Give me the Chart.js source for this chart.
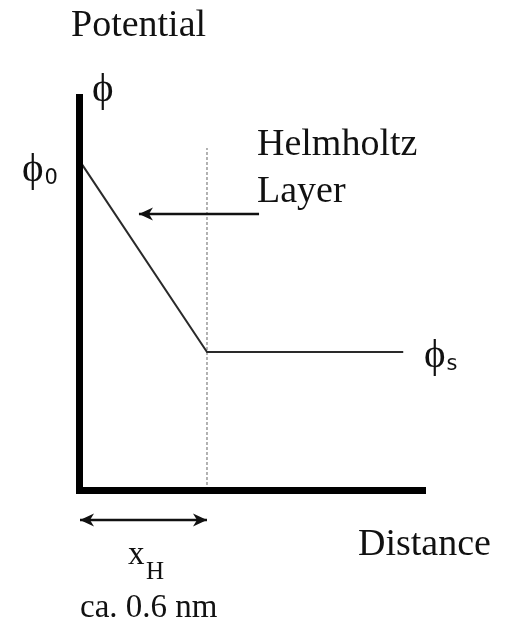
<!DOCTYPE html>
<html>
<head>
<meta charset="utf-8">
<script src="https://cdn.jsdelivr.net/npm/chart.js@4/dist/chart.umd.min.js"></script>
<style>
  html, body { margin: 0; padding: 0; background: #fff; }
  canvas { display: block; }
</style>
</head>
<body>
<canvas id="chart" width="506" height="622"></canvas>
<script>
// potential profile: distance (nm) vs potential (arb. units)
const distance = [0, 0.6, 1.52];
const potential = [8.4, 3.51, 3.51];

// Helmholtz plane and its guide line
const xH = 0.6;
const guidePotential = [0, 8.7];

// axis ranges
const xMax = 1.622;
const yMax = 10;

// texts
const axisTitles = ['Potential', 'Distance'];
const phiLabels = ['ϕ', 'ϕ', 'ϕ'];
const phiSubs = ['', '0', 's'];
const layerLabel = ['Helmholtz', 'Layer'];
const widthLabel = ['x', 'H', 'ca. 0.6 nm'];

const SERIF = '"Liberation Serif", "Times New Roman", serif';
const INK = '#111';

function arrowHead(ctx, fromX, fromY, toX, toY) {
    const ang = Math.atan2(toY - fromY, toX - fromX);
    const len = 14, half = 6.5;
    ctx.beginPath();
    ctx.moveTo(toX, toY);
    ctx.lineTo(toX - len * Math.cos(ang) + half * Math.sin(ang), toY - len * Math.sin(ang) - half * Math.cos(ang));
    ctx.lineTo(toX - (len - 4) * Math.cos(ang), toY - (len - 4) * Math.sin(ang));
    ctx.lineTo(toX - len * Math.cos(ang) - half * Math.sin(ang), toY - len * Math.sin(ang) + half * Math.cos(ang));
    ctx.closePath();
    ctx.fill();
}

function arrowLine(ctx, x1, y1, x2, y2, both) {
    ctx.beginPath();
    ctx.moveTo(x1, y1);
    ctx.lineTo(x2, y2);
    ctx.stroke();
    arrowHead(ctx, x1, y1, x2, y2);
    if (both) arrowHead(ctx, x2, y2, x1, y1);
}

const sketchPlugin = {
    id: 'sketch',
    afterDraw(chart) {
        const { ctx, chartArea } = chart;
        const sx = chart.scales.x, sy = chart.scales.y;
        ctx.save();
        ctx.fillStyle = INK;
        ctx.strokeStyle = INK;
        ctx.lineWidth = 2.5;

        // arrow pointing at the Helmholtz slope
        const ay = sy.getPixelForValue(7.02);
        arrowLine(ctx, sx.getPixelForValue(0.844), ay, sx.getPixelForValue(0.281), ay, false);

        // width of the layer, under the axis
        const by = chartArea.bottom + 30;
        arrowLine(ctx, sx.getPixelForValue(0) + 1, by, sx.getPixelForValue(xH), by, true);

        ctx.textBaseline = 'alphabetic';
        ctx.textAlign = 'left';

        // axis titles
        ctx.font = '38px ' + SERIF;
        ctx.fillText(axisTitles[0], 71, 36);
        ctx.fillText(axisTitles[1], 358, 555);

        // phi labels
        const phiPos = [[92, 101], [22, 181], [424, 367]];
        phiLabels.forEach((t, i) => {
            ctx.font = '41px ' + SERIF;
            ctx.fillText(t, phiPos[i][0], phiPos[i][1]);
            if (phiSubs[i]) {
                const w = ctx.measureText(t).width;
                ctx.font = '21px "DejaVu Sans", sans-serif';
                ctx.fillText(phiSubs[i], phiPos[i][0] + w + 1, phiPos[i][1] + 3);
            }
        });

        // Helmholtz Layer
        ctx.font = '38px ' + SERIF;
        ctx.fillText(layerLabel[0], 257, 155);
        ctx.fillText(layerLabel[1], 257, 202);

        // x_H and size
        ctx.font = '33px ' + SERIF;
        ctx.fillText(widthLabel[0], 128, 564);
        ctx.font = '25px ' + SERIF;
        ctx.fillText(widthLabel[1], 146, 579);
        ctx.font = '33px ' + SERIF;
        ctx.fillText(widthLabel[2], 80, 617);

        ctx.restore();
    }
};

new Chart(document.getElementById('chart'), {
    type: 'scatter',
    data: {
        datasets: [
            {
                data: distance.map((d, i) => ({ x: d, y: potential[i] })),
                showLine: true,
                borderColor: '#2a2a2a',
                borderWidth: 2,
                pointRadius: 0,
                tension: 0
            },
            {
                data: guidePotential.map(p => ({ x: xH, y: p })),
                showLine: true,
                borderColor: '#9a9a9a',
                borderWidth: 1.5,
                borderDash: [3, 2],
                pointRadius: 0
            }
        ]
    },
    options: {
        responsive: false,
        animation: false,
        devicePixelRatio: 1,
        layout: { padding: { left: 79, right: 81, top: 97, bottom: 132 } },
        plugins: { legend: { display: false }, tooltip: { enabled: false }, title: { display: false } },
        scales: {
            x: {
                type: 'linear', min: 0, max: xMax,
                grid: { display: false, drawTicks: false },
                ticks: { display: false },
                border: { display: true, width: 7, color: '#000', z: 1 }
            },
            y: {
                type: 'linear', min: 0, max: yMax,
                grid: { display: false, drawTicks: false },
                ticks: { display: false },
                border: { display: true, width: 7, color: '#000', z: 1 }
            }
        }
    },
    plugins: [sketchPlugin]
});
</script>
</body>
</html>
